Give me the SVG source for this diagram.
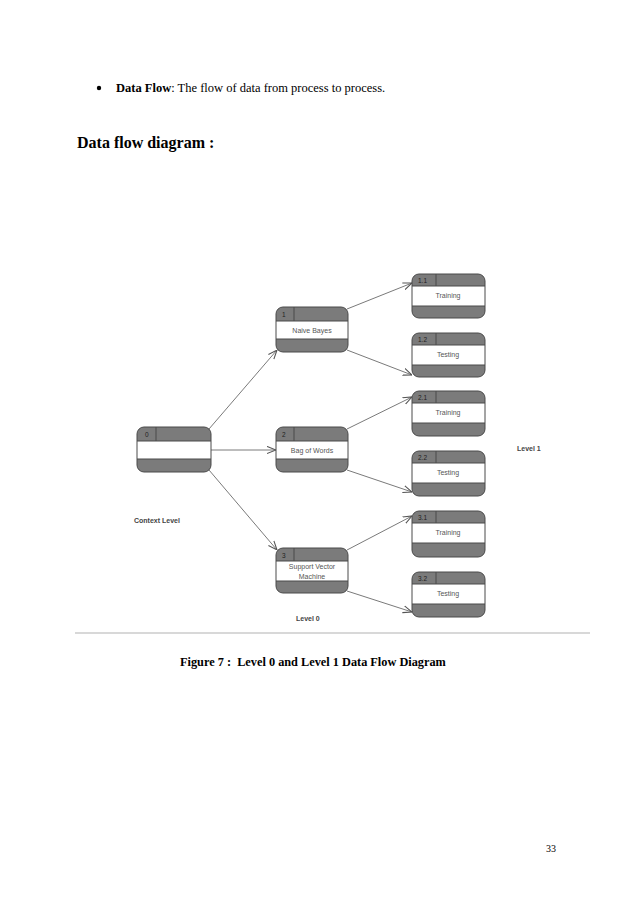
<svg xmlns="http://www.w3.org/2000/svg" width="638" height="903" viewBox="0 0 638 903">
<style>
.page{font-family:"Liberation Serif",serif;fill:#000}
.band{fill:#7b7b7b}
.mid{fill:#fff}
.frame{fill:none;stroke:#4a4a4a;stroke-width:1}
.div{stroke:#4a4a4a;stroke-width:1}
.lbl{font-family:"Liberation Sans",sans-serif;font-size:7px;fill:#555;text-anchor:middle}
.num{font-family:"Liberation Sans",sans-serif;font-size:6.5px;fill:#222}
.lev{font-family:"Liberation Sans",sans-serif;font-size:7px;font-weight:bold;fill:#444}
.conn{stroke:#7a7a7a;stroke-width:1;fill:none;marker-end:url(#arr)}
</style>
<defs>
<marker id="arr" viewBox="0 0 10 10" refX="10" refY="5" markerWidth="9" markerHeight="9" markerUnits="userSpaceOnUse" orient="auto">
<path d="M0,1 L10,5 L0,9" fill="none" stroke="#555" stroke-width="1.2"/>
</marker>
</defs>
<rect width="638" height="903" fill="#fff"/>
<circle cx="99" cy="88" r="2.2" fill="#000"/>
<text class="page" x="116" y="92" font-size="12.5"><tspan font-weight="bold">Data Flow</tspan>: The flow of data from process to process.</text>
<text class="page" x="77" y="148" font-size="16" font-weight="bold">Data flow diagram :</text>

<g id="connectors">
<line class="conn" x1="209" y1="429" x2="277" y2="350"/>
<line class="conn" x1="211" y1="450" x2="276" y2="450"/>
<line class="conn" x1="209" y1="470" x2="277" y2="550"/>
<line class="conn" x1="347" y1="309" x2="412" y2="283"/>
<line class="conn" x1="347" y1="350" x2="412" y2="375"/>
<line class="conn" x1="347" y1="429" x2="412" y2="397"/>
<line class="conn" x1="347" y1="470" x2="412" y2="492"/>
<line class="conn" x1="347" y1="550" x2="412" y2="516"/>
<line class="conn" x1="347" y1="591" x2="412" y2="612"/>
</g>

<g id="n0">
<rect class="band" x="137" y="427" width="74" height="45" rx="7"/>
<rect class="mid" x="137" y="441" width="74" height="18"/>
<line class="div" x1="137" y1="441" x2="211" y2="441"/><line class="div" x1="137" y1="459" x2="211" y2="459"/>
<line class="div" x1="156" y1="427" x2="156" y2="441"/>
<rect class="frame" x="137" y="427" width="74" height="45" rx="7"/>
<text class="num" x="145" y="437">0</text>
</g>

<g id="n1">
<rect class="band" x="276" y="307" width="72" height="45" rx="7"/>
<rect class="mid" x="276" y="321" width="72" height="18"/>
<line class="div" x1="276" y1="321" x2="348" y2="321"/><line class="div" x1="276" y1="339" x2="348" y2="339"/>
<line class="div" x1="294" y1="307" x2="294" y2="321"/>
<rect class="frame" x="276" y="307" width="72" height="45" rx="7"/>
<text class="num" x="282" y="317">1</text>
<text class="lbl" x="312" y="332.5">Naive Bayes</text>
</g>

<g id="n2">
<rect class="band" x="276" y="427" width="72" height="45" rx="7"/>
<rect class="mid" x="276" y="441" width="72" height="18"/>
<line class="div" x1="276" y1="441" x2="348" y2="441"/><line class="div" x1="276" y1="459" x2="348" y2="459"/>
<line class="div" x1="294" y1="427" x2="294" y2="441"/>
<rect class="frame" x="276" y="427" width="72" height="45" rx="7"/>
<text class="num" x="282" y="437">2</text>
<text class="lbl" x="312" y="452.5">Bag of Words</text>
</g>

<g id="n3">
<rect class="band" x="276" y="548" width="72" height="45" rx="7"/>
<rect class="mid" x="276" y="561" width="72" height="20"/>
<line class="div" x1="276" y1="561" x2="348" y2="561"/><line class="div" x1="276" y1="581" x2="348" y2="581"/>
<line class="div" x1="294" y1="548" x2="294" y2="561"/>
<rect class="frame" x="276" y="548" width="72" height="45" rx="7"/>
<text class="num" x="282" y="558">3</text>
<text class="lbl" x="312" y="569">Support Vector</text>
<text class="lbl" x="312" y="578.5">Machine</text>
</g>

<g id="n11">
<rect class="band" x="412" y="274" width="73" height="44" rx="7"/>
<rect class="mid" x="412" y="286" width="73" height="20"/>
<line class="div" x1="412" y1="286" x2="485" y2="286"/><line class="div" x1="412" y1="306" x2="485" y2="306"/>
<line class="div" x1="436" y1="274" x2="436" y2="286"/>
<rect class="frame" x="412" y="274" width="73" height="44" rx="7"/>
<text class="num" x="418" y="283">1.1</text>
<text class="lbl" x="448" y="298">Training</text>
</g>

<g id="n12">
<rect class="band" x="412" y="333" width="73" height="44" rx="7"/>
<rect class="mid" x="412" y="345" width="73" height="20"/>
<line class="div" x1="412" y1="345" x2="485" y2="345"/><line class="div" x1="412" y1="365" x2="485" y2="365"/>
<line class="div" x1="436" y1="333" x2="436" y2="345"/>
<rect class="frame" x="412" y="333" width="73" height="44" rx="7"/>
<text class="num" x="418" y="342">1.2</text>
<text class="lbl" x="448" y="357">Testing</text>
</g>

<g id="n21">
<rect class="band" x="412" y="391" width="73" height="45" rx="7"/>
<rect class="mid" x="412" y="403" width="73" height="20"/>
<line class="div" x1="412" y1="403" x2="485" y2="403"/><line class="div" x1="412" y1="423" x2="485" y2="423"/>
<line class="div" x1="436" y1="391" x2="436" y2="403"/>
<rect class="frame" x="412" y="391" width="73" height="45" rx="7"/>
<text class="num" x="418" y="400">2.1</text>
<text class="lbl" x="448" y="415">Training</text>
</g>

<g id="n22">
<rect class="band" x="412" y="451" width="73" height="45" rx="7"/>
<rect class="mid" x="412" y="463" width="73" height="20"/>
<line class="div" x1="412" y1="463" x2="485" y2="463"/><line class="div" x1="412" y1="483" x2="485" y2="483"/>
<line class="div" x1="436" y1="451" x2="436" y2="463"/>
<rect class="frame" x="412" y="451" width="73" height="45" rx="7"/>
<text class="num" x="418" y="460">2.2</text>
<text class="lbl" x="448" y="475">Testing</text>
</g>

<g id="n31">
<rect class="band" x="412" y="511" width="73" height="46" rx="7"/>
<rect class="mid" x="412" y="523" width="73" height="20"/>
<line class="div" x1="412" y1="523" x2="485" y2="523"/><line class="div" x1="412" y1="543" x2="485" y2="543"/>
<line class="div" x1="436" y1="511" x2="436" y2="523"/>
<rect class="frame" x="412" y="511" width="73" height="46" rx="7"/>
<text class="num" x="418" y="520">3.1</text>
<text class="lbl" x="448" y="535">Training</text>
</g>

<g id="n32">
<rect class="band" x="412" y="572" width="73" height="45" rx="7"/>
<rect class="mid" x="412" y="584" width="73" height="20"/>
<line class="div" x1="412" y1="584" x2="485" y2="584"/><line class="div" x1="412" y1="604" x2="485" y2="604"/>
<line class="div" x1="436" y1="572" x2="436" y2="584"/>
<rect class="frame" x="412" y="572" width="73" height="45" rx="7"/>
<text class="num" x="418" y="581">3.2</text>
<text class="lbl" x="448" y="596">Testing</text>
</g>

<text class="lev" x="134" y="523">Context Level</text>
<text class="lev" x="296" y="621">Level 0</text>
<text class="lev" x="517" y="451">Level 1</text>

<line x1="75" y1="633" x2="590" y2="633" stroke="#d8d8d8" stroke-width="2"/>
<text class="page" x="180" y="666" font-size="12.3" font-weight="bold" xml:space="preserve">Figure 7 :  Level 0 and Level 1 Data Flow Diagram</text>
<text class="page" x="546" y="852" font-size="10">33</text>
</svg>
